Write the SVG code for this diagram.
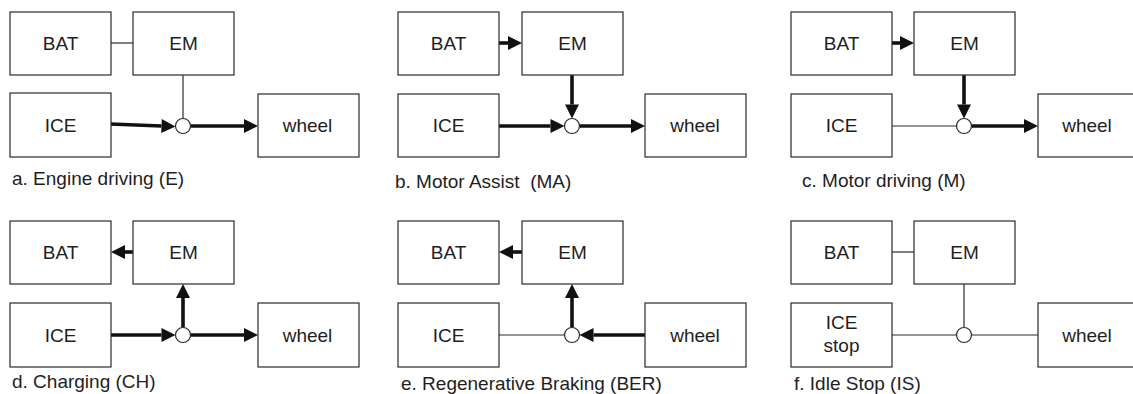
<svg xmlns="http://www.w3.org/2000/svg" width="1133" height="394" viewBox="0 0 1133 394">
<defs>
<style>
.box{fill:#fff;stroke:#2a2a2a;stroke-width:1.2}
.lbl{font-family:"Liberation Sans",Arial,sans-serif;font-size:19px;fill:#1e1e1e;text-anchor:middle}
.cap{font-family:"Liberation Sans",Arial,sans-serif;font-size:19px;fill:#1e1e1e;white-space:pre}
.thin{fill:none;stroke:#2a2a2a;stroke-width:1.2}
.thick{fill:none;stroke:#111;stroke-width:3.6;marker-end:url(#ah)}
.jn{fill:#fff;stroke:#2a2a2a;stroke-width:1.2}
</style>
<marker id="ah" markerUnits="userSpaceOnUse" markerWidth="14" markerHeight="14" refX="0" refY="7" orient="auto" overflow="visible">
<path d="M0,0 L14,7 L0,14 z" fill="#111"/>
</marker>
</defs>
<rect width="1133" height="394" fill="#fff"/>

<g id="connectors">
<!-- a -->
<line class="thin" x1="111" y1="43" x2="133" y2="43"/>
<line class="thin" x1="183" y1="75" x2="183" y2="118.5"/>
<line class="thick" x1="110" y1="124" x2="161.5" y2="126"/>
<line class="thick" x1="190.5" y1="126" x2="244" y2="126"/>
<!-- b -->
<line class="thick" x1="499" y1="43" x2="508" y2="43"/>
<line class="thick" x1="572" y1="75" x2="572" y2="104.5"/>
<line class="thick" x1="499" y1="126" x2="550.5" y2="126"/>
<line class="thick" x1="579.5" y1="126" x2="631" y2="126"/>
<!-- c -->
<line class="thick" x1="892" y1="43" x2="900" y2="43"/>
<line class="thick" x1="964" y1="75" x2="964" y2="104.5"/>
<line class="thin" x1="892" y1="126" x2="956.5" y2="126"/>
<line class="thick" x1="971.5" y1="126" x2="1024" y2="126"/>
<!-- d -->
<line class="thick" x1="133" y1="252" x2="125" y2="252"/>
<line class="thick" x1="183" y1="327.5" x2="183" y2="298"/>
<line class="thick" x1="111" y1="335" x2="161.5" y2="335"/>
<line class="thick" x1="190.5" y1="335" x2="244" y2="335"/>
<!-- e -->
<line class="thick" x1="522" y1="252" x2="513" y2="252"/>
<line class="thick" x1="572" y1="327.5" x2="572" y2="298"/>
<line class="thin" x1="499" y1="335" x2="564.5" y2="335"/>
<line class="thick" x1="645" y1="335" x2="593.5" y2="335"/>
<!-- f -->
<line class="thin" x1="892" y1="252" x2="914" y2="252"/>
<line class="thin" x1="964" y1="284" x2="964" y2="327.5"/>
<line class="thin" x1="892" y1="335" x2="956.5" y2="335"/>
<line class="thin" x1="971.5" y1="335" x2="1038" y2="335"/>
</g>

<!-- panel a -->
<g id="a-bat"><rect class="box" x="10" y="12" width="101" height="63"/><text class="lbl" x="60.5" y="50">BAT</text></g>
<g id="a-em"><rect class="box" x="133" y="12" width="101" height="63"/><text class="lbl" x="183.5" y="50">EM</text></g>
<g id="a-ice"><rect class="box" x="10" y="93" width="101" height="64"/><text class="lbl" x="60.5" y="132">ICE</text></g>
<g id="a-wheel"><rect class="box" x="258" y="94" width="101" height="63"/><text class="lbl" x="307.5" y="132">wheel</text></g>
<g id="a-junction"><circle class="jn" cx="183" cy="126" r="7.5"/></g>
<text class="cap" x="12" y="185">a. Engine driving (E)</text>

<!-- panel b -->
<g id="b-bat"><rect class="box" x="398" y="12" width="101" height="63"/><text class="lbl" x="448.5" y="50">BAT</text></g>
<g id="b-em"><rect class="box" x="522" y="12" width="101" height="63"/><text class="lbl" x="572.5" y="50">EM</text></g>
<g id="b-ice"><rect class="box" x="398" y="94" width="101" height="63"/><text class="lbl" x="448.5" y="132">ICE</text></g>
<g id="b-wheel"><rect class="box" x="645" y="94" width="101" height="63"/><text class="lbl" x="695" y="132">wheel</text></g>
<g id="b-junction"><circle class="jn" cx="572" cy="126" r="7.5"/></g>
<text class="cap" x="395" y="188">b. Motor Assist  (MA)</text>

<!-- panel c -->
<g id="c-bat"><rect class="box" x="791" y="12" width="101" height="63"/><text class="lbl" x="841.5" y="50">BAT</text></g>
<g id="c-em"><rect class="box" x="914" y="12" width="101" height="63"/><text class="lbl" x="964.5" y="50">EM</text></g>
<g id="c-ice"><rect class="box" x="791" y="94" width="101" height="63"/><text class="lbl" x="841.5" y="132">ICE</text></g>
<g id="c-wheel"><rect class="box" x="1038" y="94" width="101" height="63"/><text class="lbl" x="1087" y="132">wheel</text></g>
<g id="c-junction"><circle class="jn" cx="964" cy="126" r="7.5"/></g>
<text class="cap" x="802" y="187">c. Motor driving (M)</text>

<!-- panel d -->
<g id="d-bat"><rect class="box" x="10" y="221" width="101" height="63"/><text class="lbl" x="60.5" y="259">BAT</text></g>
<g id="d-em"><rect class="box" x="133" y="221" width="101" height="63"/><text class="lbl" x="183.5" y="259">EM</text></g>
<g id="d-ice"><rect class="box" x="10" y="303" width="101" height="64"/><text class="lbl" x="60.5" y="342">ICE</text></g>
<g id="d-wheel"><rect class="box" x="258" y="303" width="101" height="64"/><text class="lbl" x="307.5" y="342">wheel</text></g>
<g id="d-junction"><circle class="jn" cx="183" cy="335" r="7.5"/></g>
<text class="cap" x="12" y="388">d. Charging (CH)</text>

<!-- panel e -->
<g id="e-bat"><rect class="box" x="398" y="221" width="101" height="63"/><text class="lbl" x="448.5" y="259">BAT</text></g>
<g id="e-em"><rect class="box" x="522" y="221" width="101" height="63"/><text class="lbl" x="572.5" y="259">EM</text></g>
<g id="e-ice"><rect class="box" x="398" y="303" width="101" height="64"/><text class="lbl" x="448.5" y="342">ICE</text></g>
<g id="e-wheel"><rect class="box" x="645" y="303" width="101" height="64"/><text class="lbl" x="695" y="342">wheel</text></g>
<g id="e-junction"><circle class="jn" cx="572" cy="335" r="7.5"/></g>
<text class="cap" x="401" y="390">e. Regenerative Braking (BER)</text>

<!-- panel f -->
<g id="f-bat"><rect class="box" x="791" y="221" width="101" height="63"/><text class="lbl" x="841.5" y="259">BAT</text></g>
<g id="f-em"><rect class="box" x="914" y="221" width="101" height="63"/><text class="lbl" x="964.5" y="259">EM</text></g>
<g id="f-ice"><rect class="box" x="791" y="303" width="101" height="64"/><text class="lbl" x="841.5" y="329">ICE</text><text class="lbl" x="841.5" y="352">stop</text></g>
<g id="f-wheel"><rect class="box" x="1038" y="303" width="101" height="64"/><text class="lbl" x="1087" y="342">wheel</text></g>
<g id="f-junction"><circle class="jn" cx="964" cy="335" r="7.5"/></g>
<text class="cap" x="794" y="390">f. Idle Stop (IS)</text>
</svg>
